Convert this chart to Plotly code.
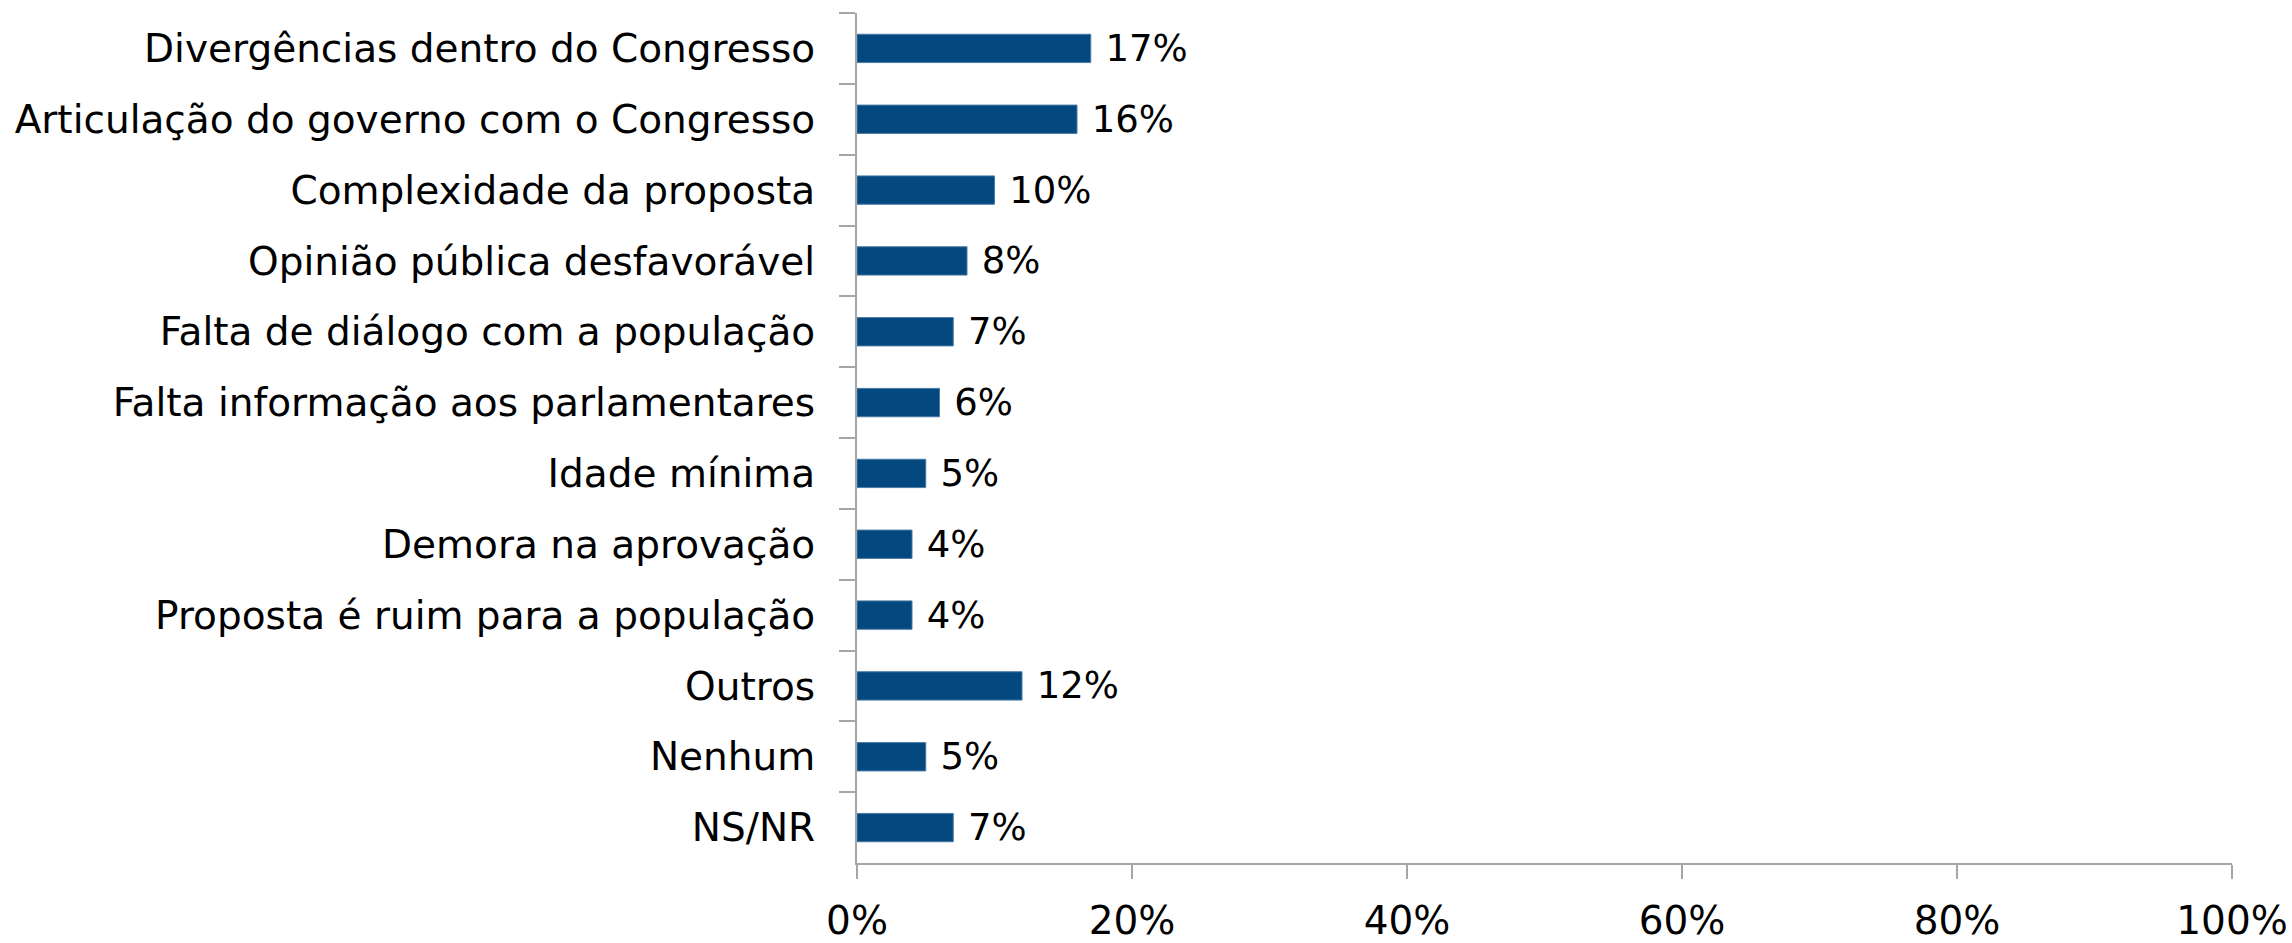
import plotly.graph_objects as go

# Survey categories (top to bottom) and their shares in percent
categories = [
    "Divergências dentro do Congresso",
    "Articulação do governo com o Congresso",
    "Complexidade da proposta",
    "Opinião pública desfavorável",
    "Falta de diálogo com a população",
    "Falta informação aos parlamentares",
    "Idade mínima",
    "Demora na aprovação",
    "Proposta é ruim para a população",
    "Outros",
    "Nenhum",
    "NS/NR",
]
values = [17, 16, 10, 8, 7, 6, 5, 4, 4, 12, 5, 7]

x_tickvals = [0, 20, 40, 60, 80, 100]
x_ticktext = ["0%", "20%", "40%", "60%", "80%", "100%"]

BAR_COLOR = "#03487F"
EDGE_COLOR = "#4A7AA5"
AXIS_COLOR = "#A6A6A6"
FONT = "DejaVu Sans"

fig = go.Figure(
    go.Bar(
        x=values,
        y=categories,
        orientation="h",
        marker=dict(color=BAR_COLOR, line=dict(color=EDGE_COLOR, width=1)),
        text=[f"\u00a0{v}%" for v in values],
        textposition="outside",
        constraintext="none",
        textfont=dict(family=FONT, size=37, color="#000000"),
        cliponaxis=False,
        width=0.4,
    )
)

fig.update_layout(
    width=2292,
    height=943,
    margin=dict(l=857, r=60, t=13, b=80),
    paper_bgcolor="white",
    plot_bgcolor="white",
    showlegend=False,
    font=dict(family=FONT, color="#000000"),
)

fig.update_xaxes(
    range=[0, 100],
    tickvals=x_tickvals,
    ticktext=x_ticktext,
    showgrid=False,
    zeroline=False,
    showline=True,
    linecolor=AXIS_COLOR,
    linewidth=2,
    ticks="outside",
    ticklen=14,
    tickwidth=2,
    tickcolor=AXIS_COLOR,
    tickfont=dict(family=FONT, size=39, color="#000000"),
    ticklabelstandoff=8,
    automargin=False,
    fixedrange=True,
)

fig.update_yaxes(
    type="category",
    categoryorder="array",
    categoryarray=categories,
    autorange="reversed",
    showgrid=False,
    zeroline=False,
    showline=True,
    linecolor=AXIS_COLOR,
    linewidth=2,
    ticks="outside",
    tickson="boundaries",
    ticklen=16,
    tickwidth=2,
    tickcolor=AXIS_COLOR,
    tickfont=dict(family=FONT, size=39, color="#000000"),
    ticklabelstandoff=32,
    automargin=False,
    fixedrange=True,
)

fig.write_html("out.html")
